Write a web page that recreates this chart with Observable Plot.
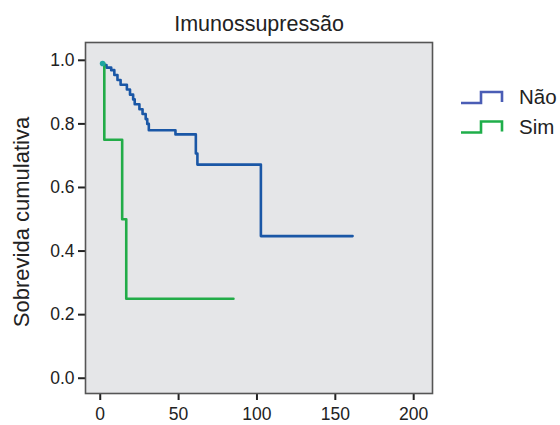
<!DOCTYPE html>
<html>
<head>
<meta charset="utf-8">
<script src="https://cdn.jsdelivr.net/npm/d3@7"></script>
<script src="https://cdn.jsdelivr.net/npm/@observablehq/plot@0.6"></script>
<style>
  html, body { margin: 0; padding: 0; background: #ffffff; }
  #chart { width: 560px; height: 425px; }
  svg { font-family: "Liberation Sans", Arial, Helvetica, sans-serif; }
</style>
</head>
<body>
<div id="chart"></div>
<script>
// Kaplan–Meier survival estimates by immunosuppression status
const title = "Imunossupressão";
const yLabel = "Sobrevida cumulativa";
const groups = ["Não", "Sim"];
const groupColors = ["#1a57a6", "#22ac48"];
const legendColors = ["#4a5db5", "#1fae4a"];

// Group "Não": event times (months) and survival after each step
const naoTimes = [1.5, 2, 4, 7, 9, 11, 13, 17, 19, 21, 22, 25, 27, 29, 30, 31, 48, 61, 62, 102.5, 161];
const naoSurv  = [0.99, 0.985, 0.977, 0.969, 0.954, 0.938, 0.923, 0.908, 0.892, 0.877, 0.862, 0.846, 0.831, 0.815, 0.800, 0.780, 0.767, 0.707, 0.672, 0.447, 0.447];

// Group "Sim"
const simTimes = [1.5, 2.6, 14, 16.6, 85];
const simSurv  = [0.99, 0.75, 0.50, 0.25, 0.25];

const xTicks = [0, 50, 100, 150, 200];
const yTicks = [0, 0.2, 0.4, 0.6, 0.8, 1.0];

const rows = [
  ...naoTimes.map((t, i) => ({group: groups[0], t, s: naoSurv[i]})),
  ...simTimes.map((t, i) => ({group: groups[1], t, s: simSurv[i]}))
];
const starts = [{t: naoTimes[0], s: naoSurv[0]}];

const plot = Plot.plot({
  width: 560,
  height: 425,
  marginLeft: 85,
  marginRight: 128,
  marginTop: 42,
  marginBottom: 32,
  style: {fontSize: "17.5px", fontFamily: "Liberation Sans, Arial, sans-serif", color: "#222", background: "transparent"},
  x: {domain: [-9.4, 212], label: null},
  y: {domain: [-0.048, 1.056], label: null},
  color: {domain: groups, range: groupColors},
  marks: [
    Plot.frame({fill: "#e5e6e8"}),
    Plot.axisX({ticks: xTicks, tickSize: 7, tickPadding: 7, strokeWidth: 2, stroke: "#222", fontSize: 17.5, label: null}),
    Plot.axisY({ticks: yTicks, tickFormat: d3.format(".1f"), tickSize: 7, tickPadding: 4, strokeWidth: 2, stroke: "#222", fontSize: 17.5, label: null}),
    Plot.line(rows, {x: "t", y: "s", z: "group", stroke: "group", curve: "step-after", strokeWidth: 2.6}),
    Plot.dot(starts, {x: "t", y: "s", r: 2.8, fill: "#1fa6a0"}),
    Plot.frame({stroke: "#555", strokeWidth: 1.6}),
    Plot.text([title], {frameAnchor: "top", lineAnchor: "middle", dy: -18, fontSize: 21.5, fill: "#222"}),
    Plot.text([yLabel], {frameAnchor: "left", textAnchor: "middle", lineAnchor: "middle", dx: -64, dy: 4, rotate: -90, fontSize: 22, fill: "#222"})
  ]
});

// Legend: step-shaped swatches to the right of the plot area
const svg = d3.select(plot);
const lg = svg.append("g")
  .attr("font-size", 20.5)
  .attr("fill", "#222")
  .attr("text-anchor", "start");
groups.forEach((g, i) => {
  const y0 = 103 + i * 29.5;
  lg.append("path")
    .attr("d", `M461,${y0}H481V${y0 - 11}H502V${y0 - 1}`)
    .attr("fill", "none")
    .attr("stroke", legendColors[i])
    .attr("stroke-width", 2.6);
  lg.append("text")
    .attr("x", 519)
    .attr("y", y0 + 1)
    .text(g);
});

document.getElementById("chart").appendChild(plot);
</script>
</body>
</html>
